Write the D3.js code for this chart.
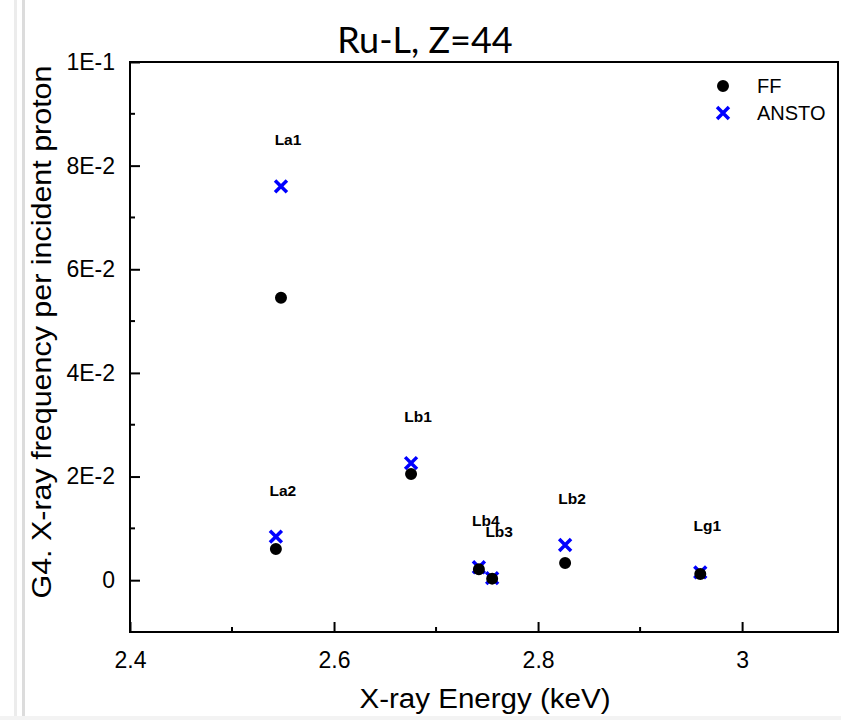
<!DOCTYPE html>
<html>
<head>
<meta charset="utf-8">
<script src="https://cdn.jsdelivr.net/npm/d3@7"></script>
<style>
  body { margin: 0; background: #fff; }
  text { font-family: "Liberation Sans", Arial, sans-serif; fill: #000; }
</style>
</head>
<body>
<svg id="chart" width="841" height="720"></svg>
<script>
// line names, energies (keV) and yields per incident proton
const lines = ["La2", "La1", "Lb1", "Lb4", "Lb3", "Lb2", "Lg1"];
const energy = [2.543, 2.548, 2.6755, 2.742, 2.755, 2.8265, 2.959];
const ffValues = [0.0060, 0.0545, 0.0205, 0.0021, 0.0003, 0.0033, 0.0012];
const anstoValues = [0.0084, 0.0760, 0.0226, 0.0025, 0.0004, 0.0068, 0.0015];

const xMajorTicks = [2.4, 2.6, 2.8, 3.0];
const xTickLabels = ["2.4", "2.6", "2.8", "3"];
const xMinorTicks = [2.5, 2.7, 2.9];
const yMajorTicks = [0, 0.02, 0.04, 0.06, 0.08, 0.1];
const yTickLabels = ["0", "2E-2", "4E-2", "6E-2", "8E-2", "1E-1"];
const yMinorTicks = [0.01, 0.03, 0.05, 0.07, 0.09];

const seriesNames = ["FF", "ANSTO"];

const margin = { left: 130, right: 3, top: 62, bottom: 88 };
const W = 841, H = 720;

const svg = d3.select("#chart");

// page edge decorations seen in the picture
svg.append("rect").attr("x", 14).attr("y", 0).attr("width", 3).attr("height", H).attr("fill", "#ececec");
svg.append("rect").attr("x", 22).attr("y", 0).attr("width", 3).attr("height", H).attr("fill", "#dcdcdc");
svg.append("rect").attr("x", 0).attr("y", 716).attr("width", W).attr("height", 4).attr("fill", "#f3f3f3");

const x = d3.scaleLinear().domain([2.4, 3.094]).range([margin.left, W - margin.right]);
const y = d3.scaleLinear().domain([-0.01, 0.1]).range([H - margin.bottom, margin.top]);

const [x0, x1] = x.range();
const [yb, yt] = y.range();

// frame
const frame = svg.append("g").attr("stroke", "#000").attr("stroke-width", 2).attr("fill", "none");
frame.append("rect").attr("x", x0).attr("y", yt).attr("width", x1 - x0).attr("height", yb - yt);

// x axis (ticks pointing inward)
const xAxis = svg.append("g").attr("transform", `translate(0,${yb})`);
xAxis.call(d3.axisBottom(x).tickValues(xMajorTicks).tickSize(-10)
  .tickFormat((d, i) => xTickLabels[i]).tickPadding(20));
xAxis.append("g").selectAll("line").data(xMinorTicks).join("line")
  .attr("x1", d => x(d)).attr("x2", d => x(d)).attr("y1", 0).attr("y2", -5)
  .attr("stroke", "#000").attr("stroke-width", 2);

const yAxis = svg.append("g").attr("transform", `translate(${x0},0)`);
yAxis.call(d3.axisLeft(y).tickValues(yMajorTicks).tickSize(-10)
  .tickFormat((d, i) => yTickLabels[i]).tickPadding(15));
yAxis.append("g").selectAll("line").data(yMinorTicks).join("line")
  .attr("y1", d => y(d)).attr("y2", d => y(d)).attr("x1", 0).attr("x2", 5)
  .attr("stroke", "#000").attr("stroke-width", 2);

svg.selectAll(".domain").remove();
svg.selectAll(".tick line").attr("stroke", "#000").attr("stroke-width", 2);
svg.selectAll(".tick text").attr("font-size", 23).attr("font-family", "Liberation Sans, Arial, sans-serif").attr("fill", "#000");

// titles
svg.append("text").attr("x", 425).attr("y", 53).attr("text-anchor", "middle")
  .attr("font-size", 36).style("font-family", "Lato, 'Open Sans', sans-serif")
  .text("Ru-L, Z=44");

svg.append("text").attr("x", 485).attr("y", 708).attr("text-anchor", "middle")
  .attr("font-size", 27).attr("textLength", 251).attr("lengthAdjust", "spacingAndGlyphs")
  .text("X-ray Energy (keV)");

svg.append("text").attr("transform", "translate(51,332) rotate(-90)")
  .attr("text-anchor", "middle").attr("font-size", 27)
  .attr("textLength", 533).attr("lengthAdjust", "spacingAndGlyphs")
  .text("G4. X-ray frequency per incident proton");

// markers
const crossPath = d3.symbol().type(d3.symbolX).size(94)();
const dotPath = d3.symbol().type(d3.symbolCircle).size(113)();

const pts = lines.map((name, i) => ({ name, e: energy[i], ff: ffValues[i], ansto: anstoValues[i] }));

svg.append("g").selectAll("path").data(pts).join("path")
  .attr("d", crossPath)
  .attr("transform", d => `translate(${x(d.e)},${y(d.ansto)})`)
  .attr("fill", "none").attr("stroke", "#0000ff").attr("stroke-width", 3.5);

svg.append("g").selectAll("path").data(pts).join("path")
  .attr("d", dotPath)
  .attr("transform", d => `translate(${x(d.e)},${y(d.ff)})`)
  .attr("fill", "#000");

// line labels, placed above each point pair
svg.append("g").selectAll("text").data(pts).join("text")
  .attr("x", d => x(d.e) + 7)
  .attr("y", d => y(Math.max(d.ff, d.ansto)) - 41)
  .attr("text-anchor", "middle").attr("font-size", 15.5).attr("font-weight", "bold")
  .text(d => d.name);

// legend
const legend = svg.append("g").attr("transform", "translate(723,86)");
legend.append("path").attr("d", dotPath).attr("fill", "#000");
legend.append("path").attr("d", crossPath).attr("transform", "translate(0,27)")
  .attr("fill", "none").attr("stroke", "#0000ff").attr("stroke-width", 3.5);
legend.selectAll("text").data(seriesNames).join("text")
  .attr("x", 34).attr("y", (d, i) => 7 + i * 27)
  .attr("font-size", 20).text(d => d);
</script>
</body>
</html>
